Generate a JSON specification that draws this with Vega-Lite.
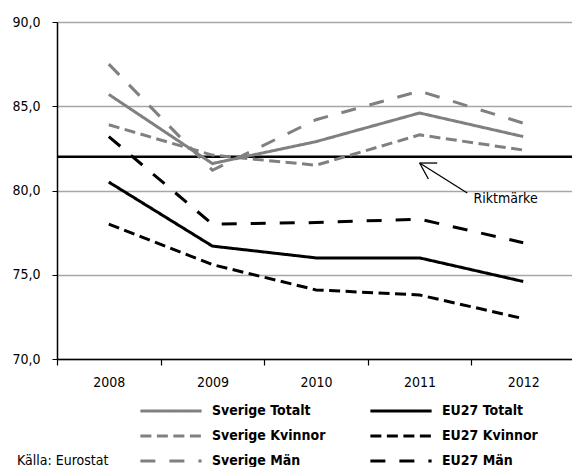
{
  "$schema": "https://vega.github.io/schema/vega-lite/v6.json",
  "autosize": "none",
  "width": 518,
  "height": 337,
  "padding": {"left": 57, "top": 22, "right": 0, "bottom": 108},
  "background": "white",
  "title": {
    "text": "Källa: Eurostat",
    "orient": "bottom",
    "anchor": "start",
    "frame": "group",
    "dx": -40,
    "offset": -14,
    "fontSize": 14,
    "fontWeight": "normal",
    "font": "DejaVu Sans Condensed, Liberation Sans Narrow, sans-serif",
    "color": "black"
  },
  "config": {
    "view": {"stroke": null},
    "font": "DejaVu Sans Condensed, Liberation Sans Narrow, sans-serif",
    "axis": {"labelFont": "DejaVu Sans Condensed, Liberation Sans Narrow, sans-serif", "labelFontSize": 14, "labelColor": "black"}
  },
  "data": {
    "values": [
      {"year": "2008", "series": "Sverige Totalt", "value": 85.7},
      {"year": "2009", "series": "Sverige Totalt", "value": 81.6},
      {"year": "2010", "series": "Sverige Totalt", "value": 82.9},
      {"year": "2011", "series": "Sverige Totalt", "value": 84.6},
      {"year": "2012", "series": "Sverige Totalt", "value": 83.2},
      {"year": "2008", "series": "Sverige Kvinnor", "value": 83.9},
      {"year": "2009", "series": "Sverige Kvinnor", "value": 82.1},
      {"year": "2010", "series": "Sverige Kvinnor", "value": 81.5},
      {"year": "2011", "series": "Sverige Kvinnor", "value": 83.3},
      {"year": "2012", "series": "Sverige Kvinnor", "value": 82.4},
      {"year": "2008", "series": "Sverige Män", "value": 87.5},
      {"year": "2009", "series": "Sverige Män", "value": 81.2},
      {"year": "2010", "series": "Sverige Män", "value": 84.2},
      {"year": "2011", "series": "Sverige Män", "value": 85.9},
      {"year": "2012", "series": "Sverige Män", "value": 84.0},
      {"year": "2008", "series": "EU27 Totalt", "value": 80.5},
      {"year": "2009", "series": "EU27 Totalt", "value": 76.7},
      {"year": "2010", "series": "EU27 Totalt", "value": 76.0},
      {"year": "2011", "series": "EU27 Totalt", "value": 76.0},
      {"year": "2012", "series": "EU27 Totalt", "value": 74.6},
      {"year": "2008", "series": "EU27 Kvinnor", "value": 78.0},
      {"year": "2009", "series": "EU27 Kvinnor", "value": 75.6},
      {"year": "2010", "series": "EU27 Kvinnor", "value": 74.1},
      {"year": "2011", "series": "EU27 Kvinnor", "value": 73.8},
      {"year": "2012", "series": "EU27 Kvinnor", "value": 72.4},
      {"year": "2008", "series": "EU27 Män", "value": 83.2},
      {"year": "2009", "series": "EU27 Män", "value": 78.0},
      {"year": "2010", "series": "EU27 Män", "value": 78.1},
      {"year": "2011", "series": "EU27 Män", "value": 78.3},
      {"year": "2012", "series": "EU27 Män", "value": 76.9}
    ]
  },
  "layer": [
    {
      "layer": [
        {
          "data": {"values": [{}]},
          "mark": {"type": "rule", "color": "black", "strokeWidth": 2.5},
          "encoding": {"y": {"datum": 82, "type": "quantitative"}}
        },
        {
          "mark": {"type": "line", "strokeCap": "butt"},
          "encoding": {
            "x": {
              "field": "year",
              "type": "ordinal",
              "scale": {"paddingInner": 0, "paddingOuter": 0},
              "axis": {
                "title": null,
                "labelAngle": 0,
                "tickBand": "extent",
                "domainColor": "black",
                "domainWidth": 1.5,
                "tickColor": "black",
                "tickWidth": 1.2,
                "tickSize": 6,
                "labelPadding": 10,
                "grid": false
              }
            },
            "y": {
              "field": "value",
              "type": "quantitative",
              "scale": {"domain": [70, 90], "nice": false, "zero": false},
              "axis": {
                "title": null,
                "values": [70, 75, 80, 85, 90],
                "labelExpr": "replace(format(datum.value, '.1f'), '.', ',')",
                "domainColor": "black",
                "domainWidth": 1.5,
                "tickColor": "black",
                "tickSize": 5,
                "labelPadding": 12,
                "grid": true,
                "gridColor": "#a6a6a6",
                "gridWidth": 1.5
              }
            },
            "color": {
              "field": "series",
              "type": "nominal",
              "scale": {
                "domain": ["Sverige Totalt", "Sverige Kvinnor", "Sverige Män", "EU27 Totalt", "EU27 Kvinnor", "EU27 Män"],
                "range": ["#808080", "#808080", "#808080", "#000000", "#000000", "#000000"]
              },
              "legend": {
                "title": null,
                "orient": "none",
                "legendX": 84,
                "legendY": 381,
                "columns": 2,
                "padding": 0,
                "symbolType": "M-5,0H5",
                "symbolSize": 150,
                "symbolOffset": 22,
                "labelOffset": 33,
                "labelFont": "DejaVu Sans Condensed, Liberation Sans Narrow, sans-serif",
                "labelFontSize": 14,
                "labelFontWeight": "bold",
                "labelColor": "black",
                "rowPadding": 10,
                "columnPadding": 38
              }
            },
            "strokeDash": {
              "field": "series",
              "type": "nominal",
              "scale": {
                "domain": ["Sverige Totalt", "Sverige Kvinnor", "Sverige Män", "EU27 Totalt", "EU27 Kvinnor", "EU27 Män"],
                "range": [[1, 0], [11, 5.5], [15, 14], [1, 0], [11, 5.5], [15, 14]]
              }
            },
            "strokeWidth": {
              "field": "series",
              "type": "nominal",
              "scale": {
                "domain": ["Sverige Totalt", "Sverige Kvinnor", "Sverige Män", "EU27 Totalt", "EU27 Kvinnor", "EU27 Män"],
                "range": [3, 3, 3, 3.5, 3.5, 3.5]
              }
            }
          }
        }
      ]
    },
    {
      "data": {"values": [{}]},
      "layer": [
        {
          "mark": {"type": "rule", "color": "black", "strokeWidth": 1.3},
          "encoding": {
            "x": {"datum": 2011.0, "type": "quantitative", "scale": {"domain": [2007.5, 2012.5], "nice": false, "zero": false}, "axis": null},
            "x2": {"datum": 2011.46},
            "y": {"datum": 81.63, "type": "quantitative"},
            "y2": {"datum": 79.85}
          }
        },
        {
          "mark": {"type": "rule", "color": "black", "strokeWidth": 1.3},
          "encoding": {
            "x": {"datum": 2011.0, "type": "quantitative"},
            "x2": {"datum": 2011.17},
            "y": {"datum": 81.63, "type": "quantitative"},
            "y2": {"datum": 81.63}
          }
        },
        {
          "mark": {"type": "rule", "color": "black", "strokeWidth": 1.3},
          "encoding": {
            "x": {"datum": 2011.0, "type": "quantitative"},
            "x2": {"datum": 2011.085},
            "y": {"datum": 81.63, "type": "quantitative"},
            "y2": {"datum": 80.68}
          }
        },
        {
          "mark": {"type": "text", "align": "left", "baseline": "middle", "fontSize": 14, "font": "DejaVu Sans Condensed, Liberation Sans Narrow, sans-serif", "color": "black"},
          "encoding": {
            "x": {"datum": 2011.52, "type": "quantitative"},
            "y": {"datum": 79.5, "type": "quantitative"},
            "text": {"value": "Riktmärke"}
          }
        }
      ]
    }
  ],
  "resolve": {"scale": {"x": "independent"}}
}
